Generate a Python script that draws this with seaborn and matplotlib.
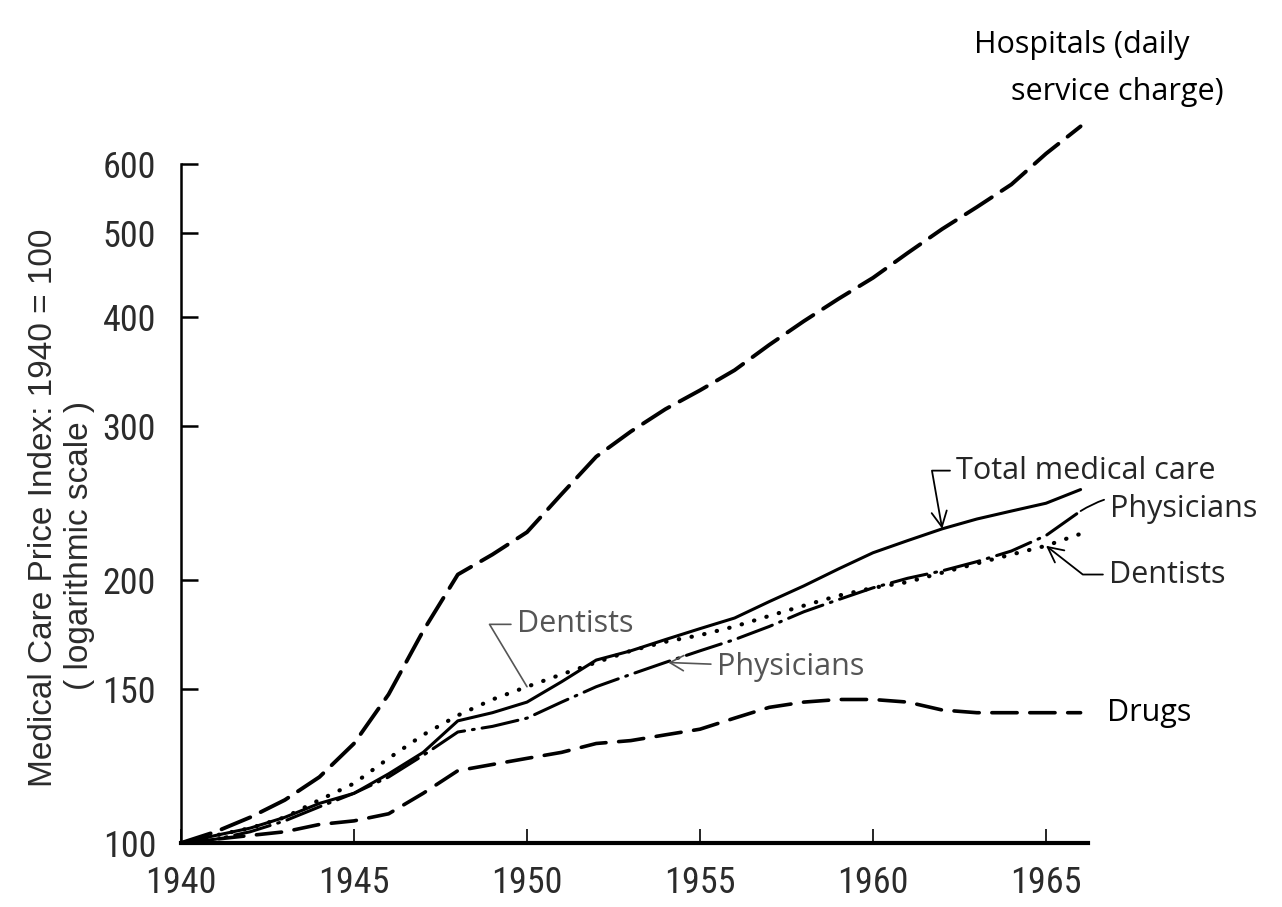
import matplotlib
matplotlib.use("Agg")
import matplotlib.pyplot as plt
import pandas as pd
import seaborn as sns
from matplotlib import font_manager as fm
from matplotlib.ticker import FixedLocator, FixedFormatter, NullLocator

# Medical care price indexes, 1940 = 100
years = list(range(1940, 1967))
hospitals = [100, 103, 107, 112, 119, 130, 148, 175, 203, 214, 227, 251, 277, 296,
             314, 330, 348, 372, 396, 420, 444, 474, 505, 535, 568, 616, 662]
total_care = [100, 102, 104, 107, 111, 114, 120, 127, 138, 141, 145, 153, 162, 166,
              171, 176, 181, 189, 197, 206, 215, 222, 229, 235, 240, 245, 254]
physicians = [100, 101, 103, 106, 110, 114, 119, 126, 134, 136, 139, 145, 151, 156,
              161, 166, 171, 177, 184, 190, 196, 201, 205, 210, 216, 225, 240]
dentists = [100, 102, 104, 107, 112, 117, 125, 133, 140, 146, 151, 156, 161, 166,
            170, 173, 177, 182, 187, 192, 196, 199, 204, 209, 214, 219, 226]
drugs = [100, 101, 102, 103, 105, 106, 108, 114, 121, 123, 125, 127, 130, 131,
         133, 135, 139, 143, 145, 146, 146, 145, 142, 141, 141, 141, 141]

y_ticks = [100, 150, 200, 300, 400, 500, 600]
x_ticks = [1940, 1945, 1950, 1955, 1960, 1965]

df = pd.DataFrame({
    "year": years,
    "Hospitals": hospitals,
    "Total medical care": total_care,
    "Physicians": physicians,
    "Dentists": dentists,
    "Drugs": drugs,
}).melt(id_vars="year", var_name="series", value_name="index")

sns.set_theme(style="white")
plt.rcParams["font.family"] = ["Liberation Sans", "DejaVu Sans"]


def find_narrow_font():
    """Return the file of an installed condensed sans face, if any."""
    prefs = ["Liberation Sans Narrow", "Roboto Condensed", "DejaVu Sans Condensed",
             "DejaVu Sans", "Noto Sans", "Open Sans", "Roboto", "Lato", "Inter"]
    found = []
    for f in fm.fontManager.ttflist:
        narrow = (f.stretch in ("condensed", "semi-condensed", "extra-condensed")
                  or "Narrow" in f.name or "Condensed" in f.name)
        if not narrow or f.style != "normal":
            continue
        if f.weight not in (400, "normal", "regular", "book"):
            continue
        rank = prefs.index(f.name) if f.name in prefs else len(prefs)
        found.append((rank, f.fname))
    if not found:
        return None
    found.sort()
    return found[0][1]


narrow_file = find_narrow_font()
if narrow_file:
    tick_font = fm.FontProperties(fname=narrow_file, size=26)
else:
    tick_font = fm.FontProperties(family="DejaVu Sans", size=21)

fig = plt.figure(figsize=(12.82, 9.07), dpi=100)
fig.patch.set_facecolor("white")
ax = fig.add_axes([0.1412, 0.0706, 0.7071, 0.8134])
ax.set_facecolor("white")

line_styles = {
    "Hospitals": dict(linewidth=2.8, linestyle=(0, (8, 3))),
    "Total medical care": dict(linewidth=2.2, linestyle="-"),
    "Physicians": dict(linewidth=2.2, linestyle=(0, (12, 2.6, 0.6, 2.6))),
    "Dentists": dict(linewidth=3.0, linestyle=(0, (0.1, 3.0))),
    "Drugs": dict(linewidth=2.6, linestyle=(0, (7, 3.5))),
}
for name, kw in line_styles.items():
    sns.lineplot(data=df[df["series"] == name], x="year", y="index", ax=ax,
                 color="black", legend=False, errorbar=None,
                 dash_capstyle="round", **kw)

ax.set_yscale("log")
ax.set_xlim(1940, 1966.2)
ax.set_ylim(100, 700)
ax.yaxis.set_major_locator(FixedLocator(y_ticks))
ax.yaxis.set_major_formatter(FixedFormatter([str(v) for v in y_ticks]))
ax.yaxis.set_minor_locator(NullLocator())
ax.xaxis.set_major_locator(FixedLocator(x_ticks))
ax.xaxis.set_major_formatter(FixedFormatter([str(v) for v in x_ticks]))
ax.xaxis.set_minor_locator(NullLocator())
ax.grid(False)
ax.set_xlabel("")
ax.set_ylabel("")

for side in ["top", "right"]:
    ax.spines[side].set_visible(False)
ax.spines["left"].set_bounds(100, 600)
ax.spines["left"].set_linewidth(1.8)
ax.spines["left"].set_color("black")
ax.spines["bottom"].set_linewidth(3)
ax.spines["bottom"].set_color("black")

ax.tick_params(axis="y", which="major", direction="in", length=12, width=1.8,
               color="black", pad=18, labelcolor="#2b2b2b", left=True)
ax.tick_params(axis="x", which="major", direction="in", length=10, width=1.2,
               color="black", pad=16, labelcolor="#2b2b2b", bottom=True)
for lab in ax.get_yticklabels() + ax.get_xticklabels():
    lab.set_fontproperties(tick_font)

# Axis title, two rotated lines at the left
fig.text(0.0343, 0.4399, "Medical Care Price Index: 1940 = 100", rotation=90,
         ha="center", va="center", fontsize=24, color="#2b2b2b")
fig.text(0.0620, 0.3991, "( logarithmic scale )", rotation=90,
         ha="center", va="center", fontsize=24, color="#2b2b2b")

lab_font = dict(fontsize=22, family=["Open Sans", "DejaVu Sans"])

# Hospitals label above the plot area
fig.text(0.760, 0.950, "Hospitals (daily", ha="left", va="center",
         color="black", **lab_font)
fig.text(0.789, 0.899, "service charge)", ha="left", va="center",
         color="black", **lab_font)

arrow_kw = dict(color="black", lw=1.3, shrinkA=2, shrinkB=0)

ax.annotate("Total medical care", xy=(1962, total_care[22]),
            xytext=(1962.4, 267), textcoords="data", ha="left", va="center",
            arrowprops=dict(arrowstyle="->,head_length=0.5,head_width=0.25",
                            connectionstyle="angle,angleA=0,angleB=100,rad=0",
                            **arrow_kw), **lab_font)

ax.annotate("Physicians", xy=(1966, physicians[26]),
            xytext=(1966.85, 241), textcoords="data", ha="left", va="center",
            annotation_clip=False,
            arrowprops=dict(arrowstyle="-", connectionstyle="arc3,rad=0.3",
                            **arrow_kw), **lab_font)

ax.annotate("Dentists", xy=(1965, dentists[25]),
            xytext=(1966.82, 203), textcoords="data", ha="left", va="center",
            annotation_clip=False,
            arrowprops=dict(arrowstyle="->,head_length=0.5,head_width=0.25",
                            connectionstyle="angle,angleA=0,angleB=-38,rad=0",
                            **arrow_kw), **lab_font)

ax.text(1966.76, 141, "Drugs", ha="left", va="center", color="black",
        clip_on=False, **lab_font)

# Labels inside the plot for the middle of the period
ax.annotate("Dentists", xy=(1950, dentists[10]),
            xytext=(1949.71, 178), textcoords="data", ha="left", va="center",
            color="#555555",
            arrowprops=dict(arrowstyle="-",
                            connectionstyle="angle,angleA=0,angleB=121,rad=0",
                            color="#555555", lw=1.2, shrinkA=2, shrinkB=0),
            **lab_font)

ax.annotate("Physicians", xy=(1954, physicians[14]),
            xytext=(1955.49, 159), textcoords="data", ha="left", va="center",
            color="#555555",
            arrowprops=dict(arrowstyle="->,head_length=0.45,head_width=0.25",
                            connectionstyle="arc3,rad=0",
                            color="#555555", lw=1.2, shrinkA=2, shrinkB=2),
            **lab_font)

fig.savefig("out.png", dpi=100, facecolor="white")
